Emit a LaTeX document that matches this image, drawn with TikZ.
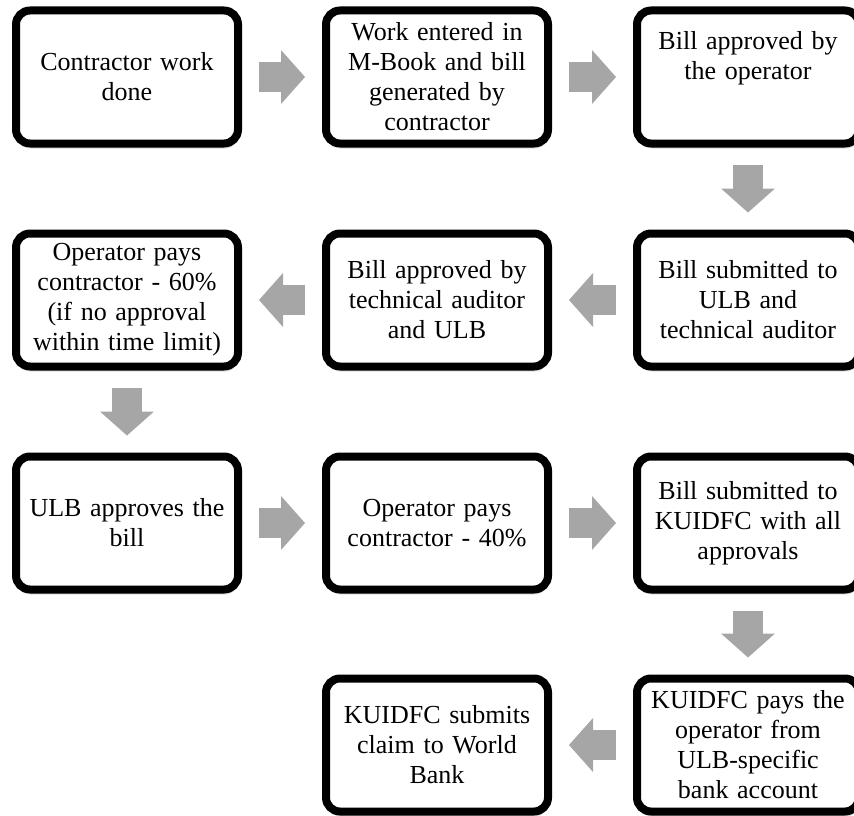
\documentclass[tikz,border=0pt]{standalone}
\usepackage{fontspec}
\setmainfont{Liberation Serif}
\usetikzlibrary{arrows.meta,shadows}
\definecolor{arrowgray}{HTML}{A6A6A6}

\begin{document}
\begin{tikzpicture}[x=1pt,y=-1pt,>={Triangle[length=24pt,width=54pt,line width=0pt]}]
	\tikzstyle{every node} = [rectangle,rounded corners=14pt,draw=black,line width=8pt,fill=white,minimum width=222pt,minimum height=133pt,inner sep=2pt,text width=212pt,align=center,font=\fontsize{26}{30}\selectfont,drop shadow={shadow xshift=1pt,shadow yshift=-5pt,opacity=0.25}];
	\tikzstyle{flow} = [->,color=arrowgray,line width=30pt,shorten <=17pt,shorten >=17pt];
	\useasboundingbox (0,0) rectangle (854,816);
	\node (1) at (127,77) {Contractor work\\done};
	\node (2) at (437,77) {Work entered in\\M-Book and bill\\generated by\\contractor};
	\node (3) at (748,77) {Bill approved by\\the operator\\[14pt]\mbox{}};
	\node (4) at (748,300) {Bill submitted to\\ULB and\\technical auditor};
	\node (5) at (437,300) {Bill approved by\\technical auditor\\and ULB};
	\node (6) at (127,300) {Operator pays\\contractor - 60\%\\(if no approval\\within time limit)};
	\node (7) at (127,523) {ULB approves the\\bill};
	\node (8) at (437,523) {Operator pays\\contractor - 40\%};
	\node (9) at (748,523) {Bill submitted to\\KUIDFC with all\\approvals};
	\node (10) at (748,745) {KUIDFC pays the\\operator from\\ULB-specific\\bank account};
	\node (11) at (437,745) {KUIDFC submits\\claim to World\\Bank};
	\draw[flow] (1) edge (2);
	\draw[flow] (2) edge (3);
	\draw[flow] (3) edge (4);
	\draw[flow] (4) edge (5);
	\draw[flow] (5) edge (6);
	\draw[flow] (6) edge (7);
	\draw[flow] (7) edge (8);
	\draw[flow] (8) edge (9);
	\draw[flow] (9) edge (10);
	\draw[flow] (10) edge (11);
\end{tikzpicture}
\end{document}
